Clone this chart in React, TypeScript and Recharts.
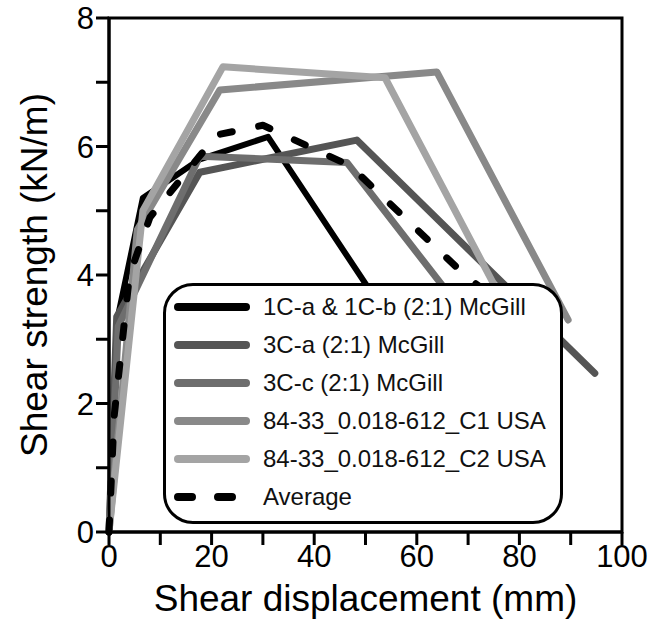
import { LineChart, Line, XAxis, YAxis, Legend, ReferenceArea } from "recharts";

// 1C-a & 1C-b (2:1) McGill
const c1abX = [0, 1.6, 6.6, 17.7, 31, 68];
const c1abY = [0, 3.3, 5.2, 5.8, 6.15, 1.7];
// 3C-a (2:1) McGill
const c3aX = [0, 1.5, 17.7, 48.3, 94.7];
const c3aY = [0, 3.35, 5.6, 6.1, 2.47];
// 3C-c (2:1) McGill
const c3cX = [0, 1.8, 17.7, 46.4, 77];
const c3cY = [0, 3.2, 5.85, 5.75, 2.6];
// 84-33_0.018-612_C1 USA
const usa1X = [0, 5.5, 21.6, 63.9, 89.5];
const usa1Y = [0, 4.7, 6.88, 7.16, 3.3];
// 84-33_0.018-612_C2 USA
const usa2X = [0, 6.6, 22.2, 53.8, 80];
const usa2Y = [0, 5.0, 7.24, 7.07, 3.1];
// Average
const avgX = [0, 1, 4, 8, 21, 30, 47, 70, 89];
const avgY = [0, 1.8, 4.0, 4.9, 6.18, 6.33, 5.7, 3.95, 2.85];

const xTicks = [0, 10, 20, 30, 40, 50, 60, 70, 80, 90, 100];
const yTicks = [0, 1, 2, 3, 4, 5, 6, 7, 8];

const toPoints = (xs: number[], ys: number[]) => xs.map((x, i) => ({ x, y: ys[i] }));

const series = [
  { name: "1C-a & 1C-b (2:1) McGill", data: toPoints(c1abX, c1abY), color: "#000000", width: 6, dash: undefined },
  { name: "3C-a (2:1) McGill", data: toPoints(c3aX, c3aY), color: "#555555", width: 7, dash: undefined },
  { name: "3C-c (2:1) McGill", data: toPoints(c3cX, c3cY), color: "#6e6e6e", width: 7, dash: undefined },
  { name: "84-33_0.018-612_C1 USA", data: toPoints(usa1X, usa1Y), color: "#898989", width: 7, dash: undefined },
  { name: "84-33_0.018-612_C2 USA", data: toPoints(usa2X, usa2Y), color: "#a4a4a4", width: 7, dash: undefined },
  { name: "Average", data: toPoints(avgX, avgY), color: "#000000", width: 7, dash: "12 27" },
];

const font = "'Liberation Sans', Arial, Helvetica, sans-serif";

function LegendBox() {
  return (
    <div
      style={{
        width: 394,
        height: 233,
        border: "3px solid #000",
        borderRadius: 30,
        background: "#fff",
        fontFamily: font,
        fontSize: 24,
        color: "#111",
        paddingTop: 2,
        boxSizing: "content-box",
      }}
    >
      {series.map((s) => (
        <div key={s.name} style={{ display: "flex", alignItems: "center", height: 38 }}>
          <svg width={93} height={20} style={{ marginLeft: 4 }}>
            <line
              x1={8}
              y1={10}
              x2={76}
              y2={10}
              stroke={s.color}
              strokeWidth={8}
              strokeLinecap="round"
              strokeDasharray={s.dash ? "14 26" : undefined}
            />
          </svg>
          <span>{s.name}</span>
        </div>
      ))}
    </div>
  );
}

export default function App() {
  return (
    <div style={{ position: "absolute", left: 0, top: 0 }}>
      <LineChart width={652} height={641} margin={{ top: 18, right: 30, bottom: 0, left: 0 }}>
        <XAxis
          type="number"
          dataKey="x"
          domain={[0, 100]}
          ticks={xTicks}
          tickFormatter={(v: number) => (v % 20 === 0 ? String(v) : "")}
          interval={0}
          allowDuplicatedCategory={false}
          height={109}
          tickSize={13}
          tickMargin={0}
          axisLine={{ stroke: "#000", strokeWidth: 3 }}
          tickLine={{ stroke: "#000", strokeWidth: 3 }}
          tick={{ fill: "#000", fontSize: 31, fontFamily: font }}
          label={{
            value: "Shear displacement (mm)",
            position: "insideBottom",
            offset: 30,
            fill: "#000",
            fontSize: 37,
            fontFamily: font,
          }}
        />
        <YAxis
          type="number"
          domain={[0, 8]}
          ticks={yTicks}
          tickFormatter={(v: number) => (v % 2 === 0 ? String(v) : "")}
          interval={0}
          width={109}
          tickSize={13}
          axisLine={{ stroke: "#000", strokeWidth: 3 }}
          tickLine={{ stroke: "#000", strokeWidth: 3 }}
          tick={{ fill: "#000", fontSize: 31, fontFamily: font }}
          label={{
            value: "Shear strength (kN/m)",
            angle: -90,
            position: "insideLeft",
            offset: 34,
            style: { textAnchor: "middle" },
            fill: "#000",
            fontSize: 37,
            fontFamily: font,
          }}
        />
        <ReferenceArea x1={0} x2={100} y1={0} y2={8} fill="none" stroke="#000" strokeWidth={3} ifOverflow="visible" />
        {series.map((s) => (
          <Line
            key={s.name}
            data={s.data}
            dataKey="y"
            name={s.name}
            type="linear"
            stroke={s.color}
            strokeWidth={s.width}
            strokeDasharray={s.dash}
            strokeLinecap="round"
            strokeLinejoin="round"
            dot={false}
            activeDot={false}
            isAnimationActive={false}
          />
        ))}
        <Legend
          layout="vertical"
          align="center"
          verticalAlign="middle"
          content={() => <LegendBox />}
          wrapperStyle={{ left: 163, top: 283, width: 400, height: 237 }}
        />
      </LineChart>
    </div>
  );
}
